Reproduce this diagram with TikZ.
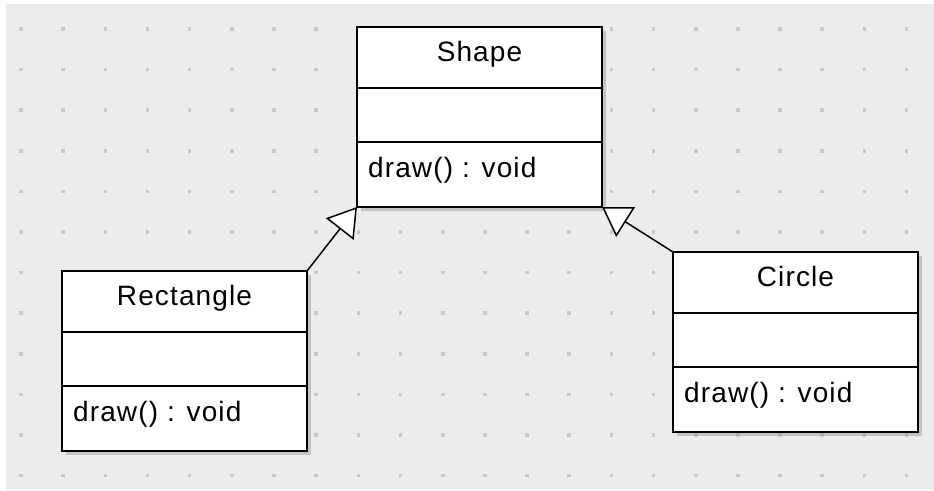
\documentclass[tikz,border=0pt]{standalone}
\usepackage{fontspec}
\setmainfont{Liberation Sans}[LetterSpace=4]
\usetikzlibrary{arrows.meta,calc}
\definecolor{canvasgray}{RGB}{236,236,236}
\definecolor{griddot}{RGB}{200,200,200}
\definecolor{shadowgray}{RGB}{120,120,120}

% UML class: #1 name, #2 left, #3 top, #4 class name, #5 operation
\newcommand{\umlclass}[5]{%
  \fill[shadowgray,opacity=.35] (#2+3.5,#3+3.5) rectangle ++(245,180);
  \node[classbox] (#1) at (#2,#3) {};
  \draw[divider] ($(#1.north west)+(0,61)$) -- ($(#1.north east)+(0,61)$);
  \draw[divider] ($(#1.north west)+(0,115)$) -- ($(#1.north east)+(0,115)$);
  \node[classname] (#1-name) at ($(#1.north)+(0,34)$) {#4};
  \node[member] (#1-op) at ($(#1.north west)+(11,150.5)$) {#5};
}

\begin{document}
\begin{tikzpicture}[x=1pt,y=-1pt,
  classbox/.style={draw=black, line width=1.8pt, fill=white, rectangle,
    inner sep=0pt, outer sep=0pt, anchor=north west,
    minimum width=245pt, minimum height=180pt},
  divider/.style={line width=1.5pt},
  classname/.style={anchor=base, inner sep=0pt, font=\fontsize{28}{34}\selectfont},
  member/.style={anchor=base west, inner sep=0pt, font=\fontsize{28}{34}\selectfont},
  generalization/.style={line width=1.5pt,
    -{Triangle[length=28pt, width=35pt, fill=white]}},
]
\useasboundingbox (0,0) rectangle (934,490);
% canvas with dotted grid
\fill[canvasgray] (6,4) rectangle (934,490);
\foreach \i in {0,...,21}
  \foreach \j in {0,...,11}
    \fill[griddot] ({21+42.17*\i-1.8},{29+40.6*\j-1.8}) rectangle ++(3.6,3.6);

% classes
\umlclass{shape}{357}{27}{Shape}{draw() : void}
\umlclass{rectangle}{62}{271}{Rectangle}{draw() : void}
\umlclass{circle}{673}{252}{Circle}{draw() : void}

% inheritance
\draw[generalization] (rectangle.north east) -- (shape.south west);
\draw[generalization] (circle.north west) -- (shape.south east);
\end{tikzpicture}
\end{document}
